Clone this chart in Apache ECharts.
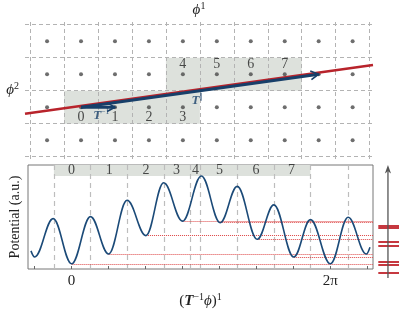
<!DOCTYPE html>
<html><head><meta charset="utf-8">
<script src="https://cdn.jsdelivr.net/npm/echarts@6/dist/echarts.min.js"></script>
<style>html,body{margin:0;padding:0;background:#fff}#c{width:399px;height:310px}</style>
</head><body><div id="c"></div>
<script>
// ---------- top panel (lattice) data ----------
const colLines = [0, 1, 2, 3, 4, 5, 6, 7, 8, 9, 10];
const rowLines = [0, 1, 2, 3, 4];
const dotCols = [0.5, 1.5, 2.5, 3.5, 4.5, 5.5, 6.5, 7.5, 8.5, 9.5];
const dotRows = [0.5, 1.5, 2.5, 3.5];
const shadedCells = [[1, 1, 5, 2], [4, 2, 8, 3]];
const cellNames = ['0', '1', '2', '3', '4', '5', '6', '7'];
const cellX = [1.5, 2.5, 3.5, 4.5, 4.5, 5.5, 6.5, 7.5];
const cellY = [1.5, 1.5, 1.5, 1.5, 2.5, 2.5, 2.5, 2.5];
const redLineX = [-0.15, 10.1];
const redLineY = [1.30, 2.78];
const arrowStart = [1.5, 1.5];
const arrowEnds = [[2.5, 1.5], [8.5, 2.5]];
const arrowLabelPos = [[2.1, 1.24], [4.93, 1.70]];

// ---------- bottom panel (potential) data ----------
const curveX = [-1.10, -1.00, -0.50, 0.00, 0.51, 1.00, 1.50, 2.01, 2.49, 3.00, 3.51, 4.02, 4.48, 5.02, 5.47, 6.01, 6.46, 7.00, 7.48, 7.97, 8.07];
const curveY = [1.74, 1.15, 4.84, 0.50, 5.04, 1.44, 6.61, 3.21, 8.29, 4.60, 8.94, 4.45, 7.94, 2.86, 6.17, 1.15, 4.75, 0.50, 4.98, 1.44, 2.10];
const minX = [0.00, 1.00, 2.01, 3.00, 4.02, 5.02, 6.01];
const minY = [0.50, 1.44, 3.21, 4.60, 4.45, 2.86, 1.15];
const bandEdges = [-0.48, 0.51, 1.50, 2.51, 3.20, 3.49, 4.48, 5.47, 6.46];
const extraDashed = [7.48];
const bandNames = ['0', '1', '2', '3', '4', '5', '6', '7'];
const bandLabelX = [0.00, 1.02, 2.01, 2.84, 3.35, 4.00, 4.99, 5.95];
const tickSteps = [-1, 0, 1, 2, 3, 4, 5, 6, 7, 8];
const labelSteps = [0, 7];
const tickText = {0: '0', 7: '2π'};

const X0 = [-0.15, 10.1], Y0 = [-0.07, 4.08];
const X1 = [-1.18, 8.152], Y1 = [0, 10];
const SERIF = 'Liberation Serif';
const GRID_C = '#b3b3b3', BLUE = '#173f69', RED = '#b8232b', SHADE = '#dde1dc';

function segRender(params, api) {
  const a = api.coord([api.value(0), api.value(1)]);
  const b = api.coord([api.value(2), api.value(3)]);
  return {type: 'rect', shape: {x: Math.min(a[0], b[0]), y: Math.min(a[1], b[1]),
    width: Math.abs(b[0] - a[0]), height: Math.abs(b[1] - a[1])}, style: {fill: SHADE}};
}
function makeArrow(style) {
  return function (params, api) {
    const p0 = api.coord([api.value(0), api.value(1)]);
    const p1 = api.coord([api.value(2), api.value(3)]);
    const ang = Math.atan2(p1[1] - p0[1], p1[0] - p0[0]);
    const L = style.head, w = style.spread;
    const h1 = [p1[0] + L * Math.cos(ang + Math.PI - w), p1[1] + L * Math.sin(ang + Math.PI - w)];
    const h2 = [p1[0] + L * Math.cos(ang + Math.PI + w), p1[1] + L * Math.sin(ang + Math.PI + w)];
    const ch = [];
    if (style.filled) {
      const inner = [p1[0] - 0.7 * L * Math.cos(ang), p1[1] - 0.7 * L * Math.sin(ang)];
      ch.push({type: 'line', shape: {x1: p0[0], y1: p0[1], x2: inner[0], y2: inner[1]}, style: {stroke: style.color, lineWidth: style.width}});
      ch.push({type: 'polygon', shape: {points: [p1, h1, inner, h2]}, style: {fill: style.color}});
    } else {
      ch.push({type: 'line', shape: {x1: p0[0], y1: p0[1], x2: p1[0], y2: p1[1]}, style: {stroke: style.color, lineWidth: style.width}});
      ch.push({type: 'polyline', shape: {points: [h1, p1, h2]}, style: {stroke: style.color, lineWidth: style.headWidth, fill: null}});
    }
    return {type: 'group', children: ch};
  };
}

const supRich = {
  n: {fontFamily: SERIF, fontSize: 15, lineHeight: 19, color: '#222'},
  i: {fontFamily: SERIF, fontSize: 15, lineHeight: 19, fontStyle: 'italic', color: '#222'},
  b: {fontFamily: SERIF, fontSize: 15, lineHeight: 19, fontStyle: 'italic', fontWeight: 'bold', color: '#222'},
  s: {fontFamily: SERIF, fontSize: 10, lineHeight: 10, verticalAlign: 'top', color: '#222'}
};
const arrRich = {
  b: {fontFamily: SERIF, fontSize: 13, lineHeight: 16, fontStyle: 'italic', fontWeight: 'bold', color: BLUE},
  s: {fontFamily: SERIF, fontSize: 8, lineHeight: 8, verticalAlign: 'top', color: BLUE}
};

const hLines = rowLines.map(r => ({coords: [[X0[0], r], [X0[1], r]]}));
const vLines = colLines.map(c => ({coords: [[c, Y0[0]], [c, Y0[1]]]}));
const dots = [];
dotCols.forEach(x => dotRows.forEach(y => dots.push([x, y])));

const option = {
  animation: false,
  backgroundColor: '#fff',
  grid: [
    {left: 25, top: 20, width: 348, height: 139},
    {left: 25, top: 165, width: 348, height: 113, show: true, borderColor: '#777', borderWidth: 1, backgroundColor: 'transparent'},
    {left: 376, top: 165, width: 23, height: 113}
  ],
  xAxis: [
    {gridIndex: 0, type: 'value', min: X0[0], max: X0[1], position: 'top',
     axisLine: {show: false}, axisTick: {show: false}, axisLabel: {show: false}, splitLine: {show: false},
     name: '{i|ϕ}{s|1}', nameLocation: 'middle', nameGap: 2, nameTextStyle: {rich: supRich}},
    {gridIndex: 1, type: 'value', min: X1[0], max: X1[1],
     axisLine: {show: false}, splitLine: {show: false},
     axisTick: {show: true, inside: true, length: 3, customValues: tickSteps, lineStyle: {color: '#666'}},
     axisLabel: {show: true, customValues: labelSteps, margin: 5, formatter: v => tickText[v] || '',
       fontFamily: SERIF, fontSize: 15, color: '#222'},
     name: '{n|(}{b|T}{s|−1}{i|ϕ}{n|)}{s|1}', nameLocation: 'middle', nameGap: 23, nameTextStyle: {rich: supRich}},
    {gridIndex: 2, type: 'value', min: 0, max: 1, show: false}
  ],
  yAxis: [
    {gridIndex: 0, type: 'value', min: Y0[0], max: Y0[1],
     axisLine: {show: false}, axisTick: {show: false}, axisLabel: {show: false}, splitLine: {show: false},
     name: '{i|ϕ}{s|2}', nameLocation: 'middle', nameRotate: 0, nameGap: 6, nameTextStyle: {rich: supRich}},
    {gridIndex: 1, type: 'value', min: Y1[0], max: Y1[1],
     axisLine: {show: false}, axisTick: {show: false}, axisLabel: {show: false}, splitLine: {show: false},
     name: 'Potential (a.u.)', nameLocation: 'middle', nameGap: 6,
     nameTextStyle: {fontFamily: SERIF, fontSize: 14, color: '#222'}},
    {gridIndex: 2, type: 'value', min: Y1[0], max: Y1[1], show: false}
  ],
  series: [
    {type: 'custom', xAxisIndex: 0, yAxisIndex: 0, z: 1, renderItem: segRender, data: shadedCells,
     encode: {x: [0, 2], y: [1, 3]}, silent: true},
    {type: 'lines', coordinateSystem: 'cartesian2d', xAxisIndex: 0, yAxisIndex: 0, z: 2, silent: true,
     lineStyle: {color: GRID_C, width: 1, type: [4, 3], opacity: 1}, data: hLines.concat(vLines)},
    {type: 'scatter', xAxisIndex: 0, yAxisIndex: 0, z: 3, symbolSize: 4, itemStyle: {color: '#4a4a4a'}, data: dots, silent: true},
    {type: 'scatter', xAxisIndex: 0, yAxisIndex: 0, z: 3, symbolSize: 0, silent: true,
     data: cellNames.map((n, i) => ({value: [cellX[i], cellY[i]], name: n,
       label: {show: true, position: 'inside', offset: [0, i < 4 ? 10 : -10], formatter: n,
         fontFamily: SERIF, fontSize: 14, color: '#222'}}))},
    {type: 'line', xAxisIndex: 0, yAxisIndex: 0, z: 4, showSymbol: false, silent: true,
     lineStyle: {color: RED, width: 2.6}, data: redLineX.map((x, i) => [x, redLineY[i]])},
    {type: 'custom', xAxisIndex: 0, yAxisIndex: 0, z: 5, silent: true, clip: false,
     renderItem: makeArrow({color: BLUE, width: 3, head: 9, spread: 0.5, headWidth: 1.6, filled: false}),
     encode: {x: [0, 2], y: [1, 3]},
     data: arrowEnds.map(e => [arrowStart[0], arrowStart[1], e[0], e[1]])},
    {type: 'scatter', xAxisIndex: 0, yAxisIndex: 0, z: 6, symbolSize: 0, silent: true,
     data: [
       {value: arrowLabelPos[0], label: {show: true, position: 'inside', formatter: '{b|T}{s|−1}', rich: arrRich}},
       {value: arrowLabelPos[1], label: {show: true, position: 'inside', formatter: '{b|T}{s|∥}', rich: arrRich}}
     ]},

    {type: 'custom', xAxisIndex: 1, yAxisIndex: 1, z: 1, silent: true, renderItem: segRender,
     encode: {x: [0, 2], y: [1, 3]},
     data: [[bandEdges[0], 8.94, bandEdges[bandEdges.length - 1], 10]]},
    {type: 'lines', coordinateSystem: 'cartesian2d', xAxisIndex: 1, yAxisIndex: 1, z: 2, silent: true,
     lineStyle: {color: '#bdbdbd', width: 1.2, type: [5, 4], opacity: 1},
     data: bandEdges.concat(extraDashed).map(e => ({coords: [[e, Y1[0]], [e, Y1[1]]]}))},
    {type: 'scatter', xAxisIndex: 1, yAxisIndex: 1, z: 3, symbolSize: 0, silent: true,
     data: bandNames.map((n, i) => ({value: [bandLabelX[i], 9.47],
       label: {show: true, position: 'inside', formatter: n, fontFamily: SERIF, fontSize: 14, color: '#222'}}))},
    {type: 'lines', coordinateSystem: 'cartesian2d', xAxisIndex: 1, yAxisIndex: 1, z: 3, silent: true,
     lineStyle: {color: '#dd4444', width: 1, type: [1, 1], opacity: 1},
     data: minX.map((x, i) => ({coords: [[x, minY[i]], [X1[1], minY[i]]]}))},
    {type: 'line', xAxisIndex: 1, yAxisIndex: 1, z: 4, showSymbol: false, silent: true,
     smooth: 0.38, smoothMonotone: 'x',
     lineStyle: {color: '#1b4a78', width: 1.6},
     data: curveX.map((x, i) => [x, curveY[i]])},
    {type: 'lines', coordinateSystem: 'cartesian2d', xAxisIndex: 2, yAxisIndex: 2, z: 3, silent: true,
     lineStyle: {color: '#c0222a', width: 1.8, type: 'solid', opacity: 1},
     data: minY.map(y => ({coords: [[0.1, y], [1, y]]}))},
    {type: 'custom', xAxisIndex: 2, yAxisIndex: 2, z: 4, silent: true, clip: false,
     renderItem: makeArrow({color: '#555', width: 1.3, head: 9, spread: 0.35, filled: true}),
     encode: {x: [0, 2], y: [1, 3]},
     data: [[0.52, 0, 0.52, 10]]}
  ]
};
echarts.init(document.getElementById('c'), null, {renderer: 'canvas'}).setOption(option);
</script></body></html>
